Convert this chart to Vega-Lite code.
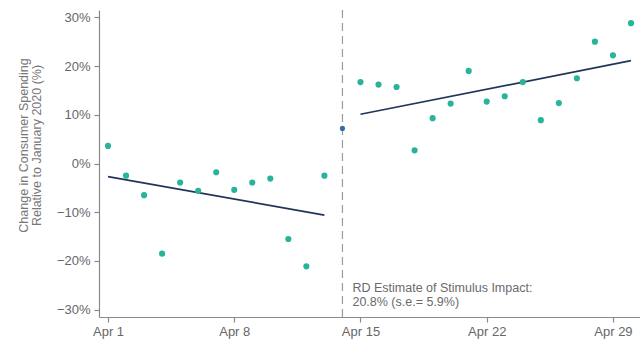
{
  "$schema": "https://vega.github.io/schema/vega-lite/v6.json",
  "autosize": {"type": "none"},
  "padding": {"left": 99, "top": 10, "right": 0, "bottom": 27},
  "width": 541,
  "height": 307,
  "background": "white",
  "config": {
    "view": {"stroke": null},
    "font": "Liberation Sans",
    "axis": {
      "grid": false,
      "domainColor": "#8a8a8a",
      "domainWidth": 1.2,
      "tickColor": "#8a8a8a",
      "tickWidth": 1.2,
      "tickSize": 5,
      "labelFont": "Liberation Sans",
      "labelFontSize": 13,
      "labelColor": "#666666",
      "titleFont": "Liberation Sans"
    }
  },
  "datasets": {
    "daily": [
      {"date": "2020-04-01", "value": 0.036},
      {"date": "2020-04-02", "value": -0.025},
      {"date": "2020-04-03", "value": -0.065},
      {"date": "2020-04-04", "value": -0.185},
      {"date": "2020-04-05", "value": -0.039},
      {"date": "2020-04-06", "value": -0.056},
      {"date": "2020-04-07", "value": -0.018},
      {"date": "2020-04-08", "value": -0.054},
      {"date": "2020-04-09", "value": -0.039},
      {"date": "2020-04-10", "value": -0.031},
      {"date": "2020-04-11", "value": -0.155},
      {"date": "2020-04-12", "value": -0.211},
      {"date": "2020-04-13", "value": -0.025},
      {"date": "2020-04-15", "value": 0.167},
      {"date": "2020-04-16", "value": 0.162},
      {"date": "2020-04-17", "value": 0.157},
      {"date": "2020-04-18", "value": 0.027},
      {"date": "2020-04-19", "value": 0.093},
      {"date": "2020-04-20", "value": 0.123},
      {"date": "2020-04-21", "value": 0.190},
      {"date": "2020-04-22", "value": 0.127},
      {"date": "2020-04-23", "value": 0.138},
      {"date": "2020-04-24", "value": 0.167},
      {"date": "2020-04-25", "value": 0.089},
      {"date": "2020-04-26", "value": 0.124},
      {"date": "2020-04-27", "value": 0.175},
      {"date": "2020-04-28", "value": 0.250},
      {"date": "2020-04-29", "value": 0.222},
      {"date": "2020-04-30", "value": 0.288}
    ],
    "stimulus": [
      {"date": "2020-04-14", "value": 0.072}
    ],
    "fits": [
      {"segment": "pre", "date": "2020-04-01", "value": -0.027},
      {"segment": "pre", "date": "2020-04-13", "value": -0.106},
      {"segment": "post", "date": "2020-04-15", "value": 0.101},
      {"segment": "post", "date": "2020-04-30", "value": 0.211}
    ],
    "cutoff": [
      {"date": "2020-04-14"}
    ],
    "note": [
      {"date": "2020-04-14", "value": -0.264, "label": "RD Estimate of Stimulus Impact:\n20.8% (s.e.= 5.9%)"}
    ]
  },
  "encoding": {
    "x": {
      "field": "date",
      "type": "temporal",
      "scale": {
        "type": "utc",
        "domain": [
          {"year": 2020, "month": "Mar", "date": 31, "hours": 12, "utc": true},
          {"year": 2020, "month": "Apr", "date": 30, "hours": 12, "utc": true}
        ]
      },
      "axis": {
        "title": null,
        "format": "%b %-d",
        "labelPadding": 3,
        "values": [
          {"year": 2020, "month": "Apr", "date": 1, "utc": true},
          {"year": 2020, "month": "Apr", "date": 8, "utc": true},
          {"year": 2020, "month": "Apr", "date": 15, "utc": true},
          {"year": 2020, "month": "Apr", "date": 22, "utc": true},
          {"year": 2020, "month": "Apr", "date": 29, "utc": true}
        ]
      }
    }
  },
  "layer": [
    {
      "data": {"name": "cutoff"},
      "mark": {"type": "rule", "color": "#9a9a9a", "strokeWidth": 1.2, "strokeDash": [8, 5]},
      "encoding": {}
    },
    {
      "data": {"name": "fits"},
      "mark": {"type": "line", "color": "#1f3659", "strokeWidth": 1.7},
      "encoding": {
        "y": {
          "field": "value",
          "type": "quantitative",
          "scale": {"domain": [-0.315, 0.315], "nice": false, "zero": false},
          "axis": {
            "values": [-0.3, -0.2, -0.1, 0, 0.1, 0.2, 0.3],
            "format": ".0%",
            "labelPadding": 4,
            "title": ["Change in Consumer Spending", "Relative to January 2020 (%)"],
            "titleFontSize": 12.5,
            "titleFontWeight": "normal",
            "titleColor": "#777777",
            "titleAngle": -90,
            "titleAlign": "center",
            "titleBaseline": "middle",
            "titleLineHeight": 13,
            "titleX": -76,
            "titleY": 135
          }
        },
        "detail": {"field": "segment"}
      }
    },
    {
      "data": {"name": "daily"},
      "mark": {"type": "circle", "color": "#27b49a", "opacity": 1, "size": 38},
      "encoding": {
        "y": {"field": "value", "type": "quantitative"}
      }
    },
    {
      "data": {"name": "stimulus"},
      "mark": {"type": "circle", "color": "#2f6ea8", "opacity": 1, "size": 26},
      "encoding": {
        "y": {"field": "value", "type": "quantitative"}
      }
    },
    {
      "data": {"name": "note"},
      "mark": {"type": "text", "align": "left", "baseline": "alphabetic", "dx": 10, "fontSize": 12.5, "color": "#6a6a6a", "lineBreak": "\n", "lineHeight": 13.5},
      "encoding": {
        "y": {"field": "value", "type": "quantitative"},
        "text": {"field": "label"}
      }
    }
  ]
}
